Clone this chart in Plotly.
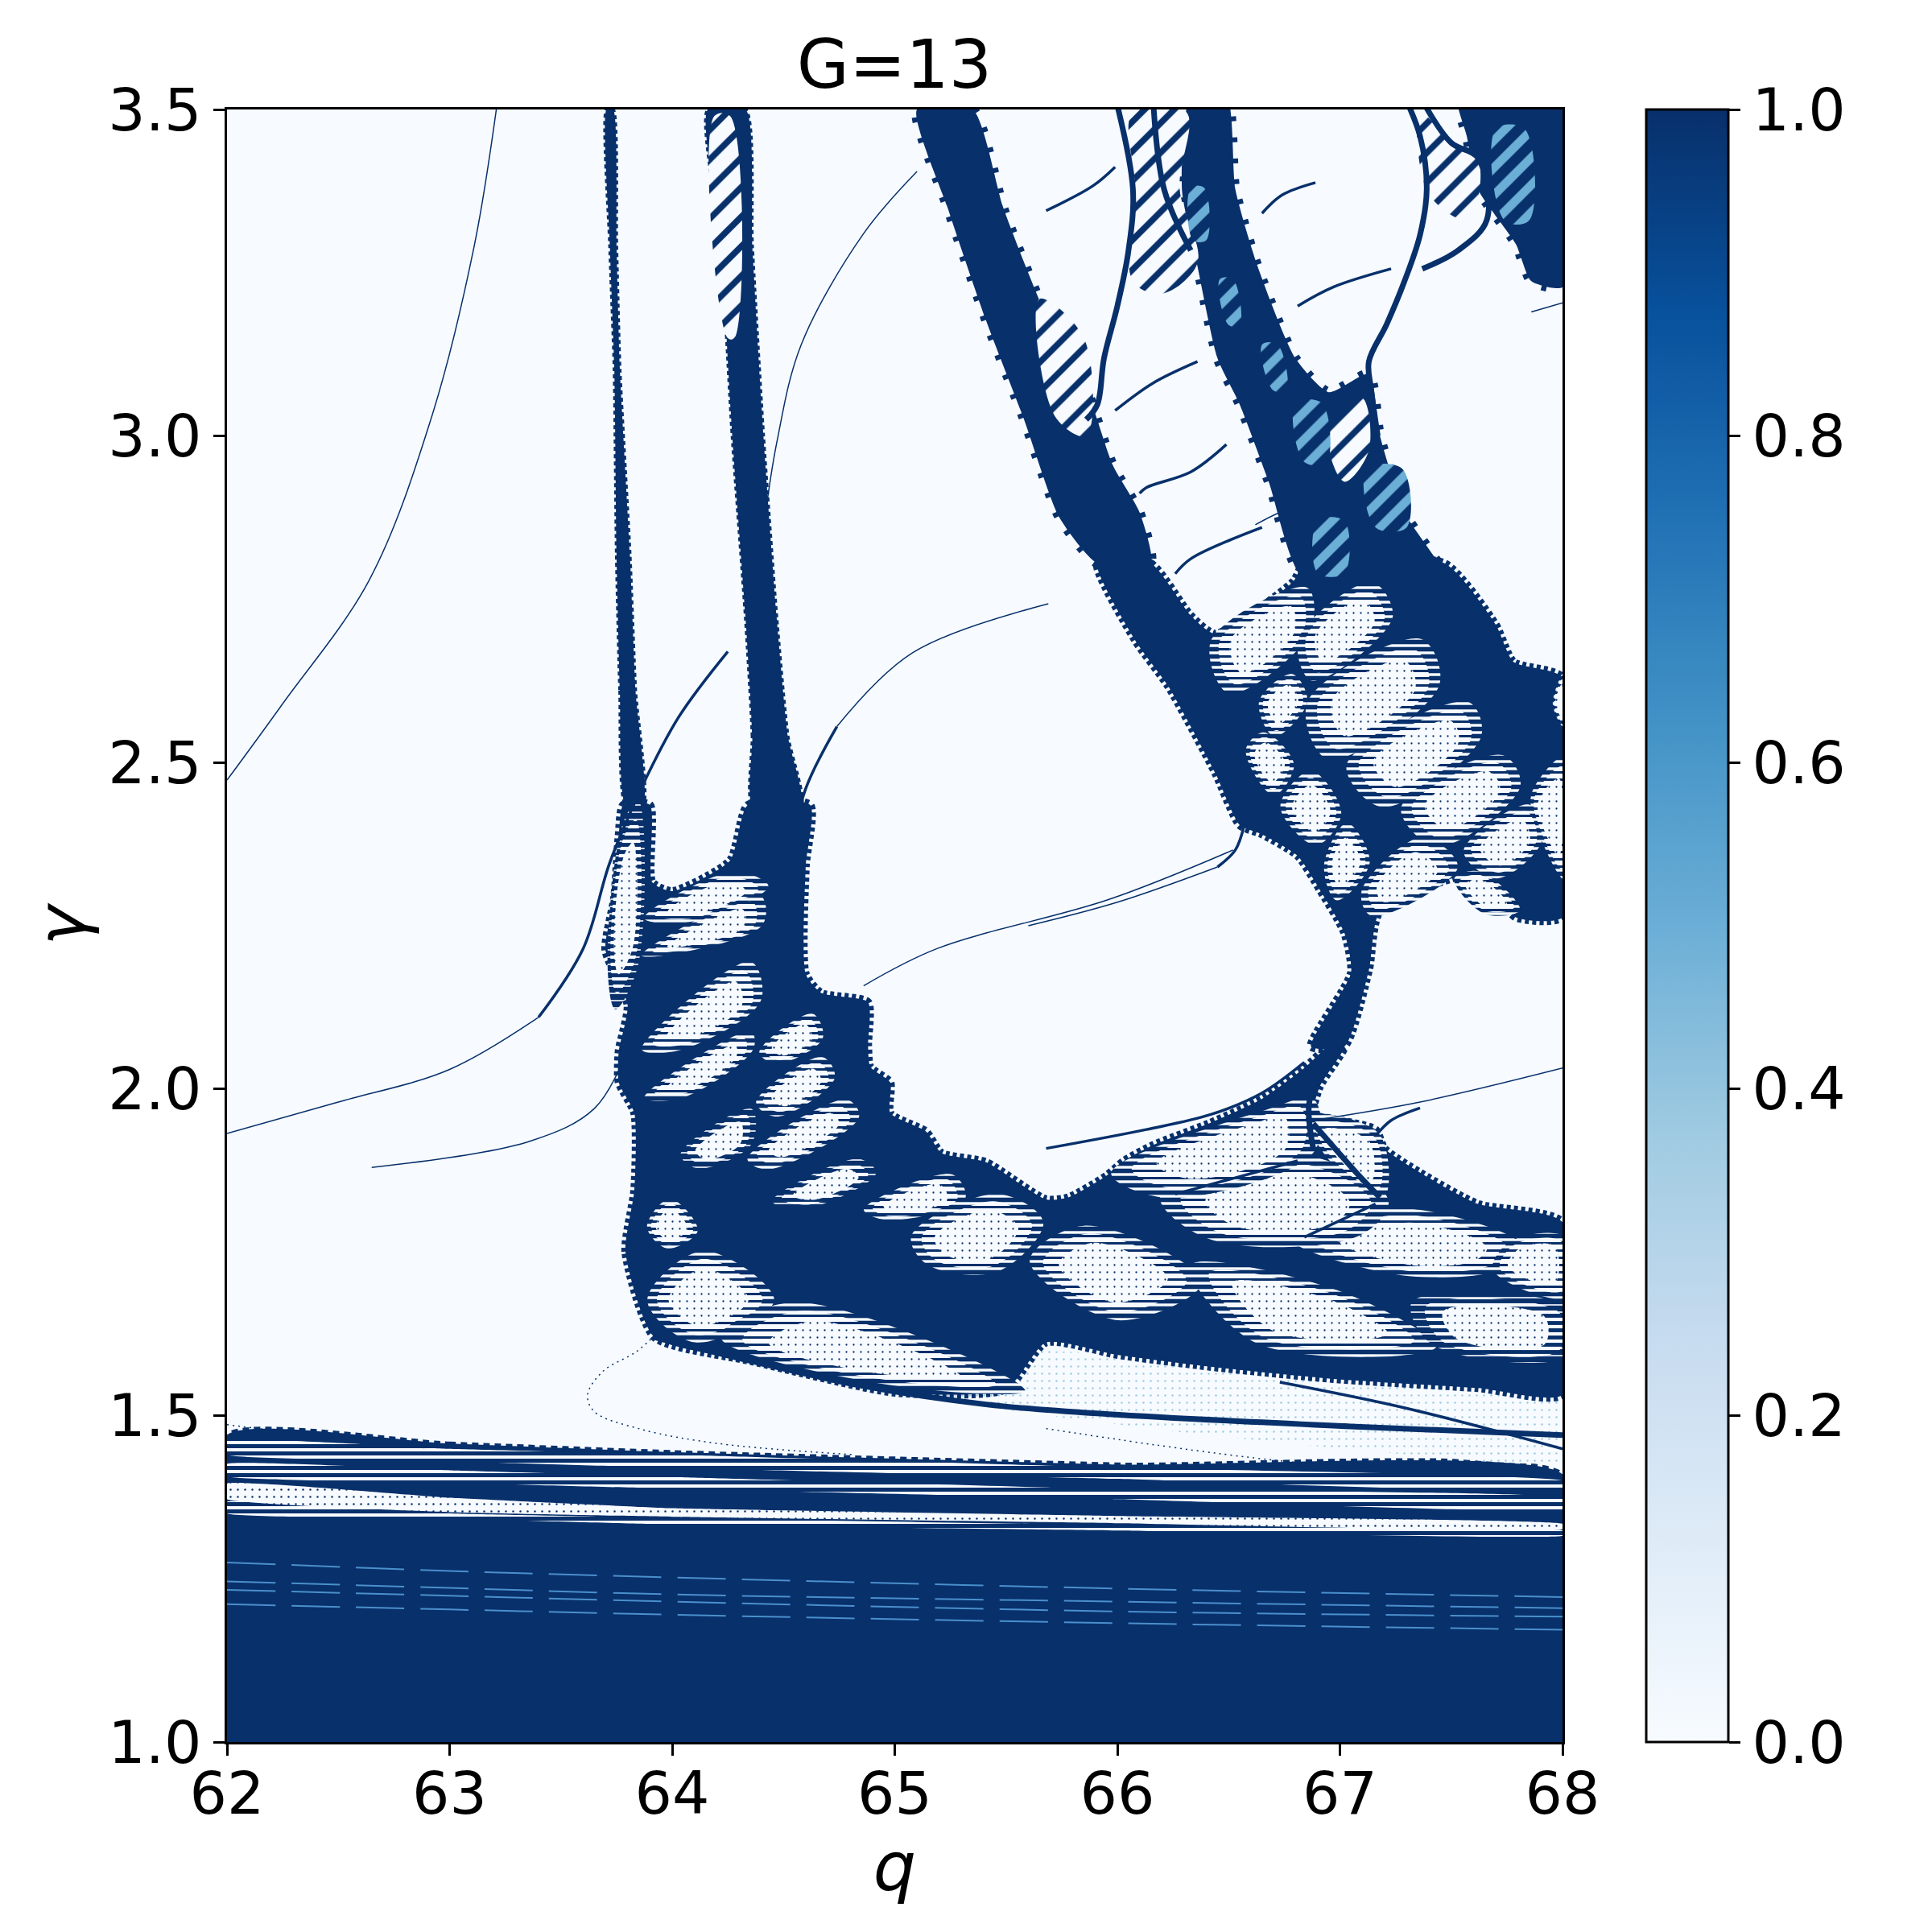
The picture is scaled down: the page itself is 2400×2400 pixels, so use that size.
"""G=13 stability map, q against gamma, rebuilt from values read off the picture."""

import plotly.graph_objects as go

DARK = "#08306b"
PAPER = "#f7fbff"
BLUES = [
    [0.0, "#f7fbff"], [0.125, "#deebf7"], [0.25, "#c6dbef"], [0.375, "#9ecae1"],
    [0.5, "#6baed6"], [0.625, "#4292c6"], [0.75, "#2171b5"], [0.875, "#08519c"],
    [1.0, "#08306b"],
]

x_ticks = [62, 63, 64, 65, 66, 67, 68]
y_ticks = [1.0, 1.5, 2.0, 2.5, 3.0, 3.5]
bar_ticks = [0.0, 0.2, 0.4, 0.6, 0.8, 1.0]

# coarse base map: solid below gamma 1.32, empty above
base_q = [62, 68]
base_gamma = [1.0, 1.32, 3.5]
base_z = [[1.0], [0.0]]

# horizontal bands at the bottom, sampled along q
band_q = [62, 63, 64, 66, 68]
band_top = [1.47, 1.457, 1.444, 1.425, 1.41]
band_bottom = [1.3, 1.3, 1.3, 1.3, 1.3]
striped_bands = [
    ([1.44, 1.43, 1.42, 1.403, 1.386], [1.462, 1.449, 1.44, 1.42, 1.4]),
    ([1.407, 1.397, 1.388, 1.372, 1.357], [1.426, 1.416, 1.406, 1.387, 1.374]),
    ([1.35, 1.342, 1.333, 1.324, 1.316], [1.368, 1.35, 1.343, 1.332, 1.324]),
]
white_bands = [
    ([1.372, 1.352, 1.345, 1.335, 1.326], [1.396, 1.374, 1.358, 1.346, 1.334]),
]
streak_gamma = [
    [1.275, 1.262, 1.252, 1.235, 1.222],
    [1.246, 1.236, 1.226, 1.215, 1.205],
    [1.233, 1.224, 1.215, 1.2, 1.192],
    [1.211, 1.203, 1.195, 1.182, 1.172],
]

# dark masses, as outlines in (q, gamma)
net_q = [63.92, 63.79, 63.83, 63.83, 63.76, 63.76, 63.8, 63.7, 63.74, 63.76, 63.78, 63.9, 63.91, 64.0, 64.26,
         64.34, 64.62, 64.6, 64.6, 64.67, 64.88, 64.88, 64.89, 64.98, 64.98, 65.14, 65.21, 65.41, 65.68, 65.78,
         65.95, 66.03, 66.16, 66.41, 66.65, 66.84, 66.95, 67.02, 66.91, 66.88, 66.97, 67.16, 67.2, 67.36, 67.62,
         68.0, 68.0, 67.62, 66.97, 66.41, 66.0, 65.68, 65.5, 65.0, 64.36]
net_gamma = [1.62, 1.751, 1.845, 1.963, 2.01, 2.058, 2.128, 2.213, 2.293, 2.388, 2.435, 2.435, 2.317, 2.303, 2.35,
             2.435, 2.435, 2.341, 2.176, 2.147, 2.133, 2.067, 2.034, 2.01, 1.963, 1.935, 1.902, 1.888, 1.831, 1.834,
             1.867, 1.89, 1.914, 1.947, 1.985, 2.032, 2.065, 2.065, 2.004, 1.961, 1.954, 1.938, 1.909, 1.872, 1.824,
             1.796, 1.532, 1.542, 1.556, 1.575, 1.593, 1.612, 1.54, 1.535, 1.583]
lattice_q = [65.91, 66.15, 66.33, 66.44, 66.79, 66.84, 67.47, 67.7, 67.78, 68.0, 68.0, 67.79, 67.62, 67.18, 67.13,
             67.02, 66.87, 67.05, 67.02, 66.91, 66.81, 66.65, 66.55, 66.44, 66.23, 66.08]
lattice_gamma = [2.805, 2.805, 2.725, 2.697, 2.777, 2.805, 2.805, 2.711, 2.654, 2.63, 2.263, 2.263, 2.329, 2.272,
                 2.182, 2.065, 2.065, 2.178, 2.239, 2.305, 2.357, 2.39, 2.404, 2.484, 2.616, 2.687]
alpha_q = [65.1, 65.35, 65.49, 65.69, 65.85, 65.98, 66.1, 66.15, 65.91, 65.74, 65.58, 65.41, 65.24]
alpha_gamma = [3.5, 3.5, 3.347, 3.177, 3.083, 2.955, 2.883, 2.805, 2.805, 2.875, 3.026, 3.177, 3.347]
beta_q = [66.33, 66.49, 66.53, 66.63, 66.8, 66.95, 67.13, 67.18, 67.29, 67.47, 66.84, 66.68, 66.55, 66.45, 66.36, 66.29]
beta_gamma = [3.52, 3.52, 3.378, 3.26, 3.119, 3.067, 3.095, 3.0, 2.883, 2.78, 2.78, 2.93, 3.048, 3.119, 3.26, 3.378]
corner_q = [67.53, 68.0, 68.0, 67.86, 67.79, 67.62, 67.57]
corner_gamma = [3.52, 3.52, 3.228, 3.237, 3.294, 3.378, 3.459]
tower1_q = [63.79, 63.765, 63.75, 63.74, 63.72, 63.705, 63.735, 63.75, 63.765, 63.81, 63.835, 63.87]
tower1_gamma = [2.436, 2.611, 2.819, 3.102, 3.291, 3.5, 3.5, 3.291, 3.102, 2.819, 2.611, 2.436]
tower2_q = [64.36, 64.36, 64.33, 64.27, 64.22, 64.16, 64.33, 64.36, 64.41, 64.47, 64.52, 64.58]
tower2_gamma = [2.435, 2.54, 2.72, 3.0, 3.29, 3.5, 3.5, 3.29, 3.0, 2.72, 2.54, 2.435]

# light lobes cut back out of the dark masses
net_lobes = [
    ([65.65, 65.87, 66.33, 66.0], [1.735, 1.782, 1.706, 1.655]),
    ([66.39, 66.97, 67.36, 66.65], [1.721, 1.688, 1.612, 1.617]),
    ([66.85, 67.29, 67.77, 67.70, 67.29], [1.77, 1.81, 1.758, 1.73, 1.72]),
    ([67.78, 68.0, 68.0, 67.71], [1.763, 1.768, 1.688, 1.725]),
    ([66.26, 66.81, 67.16, 67.05, 66.45], [1.834, 1.89, 1.829, 1.782, 1.777]),
    ([66.04, 66.65, 66.84, 66.84, 66.26], [1.876, 1.961, 1.975, 1.905, 1.843]),
    ([66.88, 67.16, 67.18, 66.97], [1.952, 1.928, 1.843, 1.89]),
    ([65.11, 65.45, 65.63, 65.45, 65.17], [1.775, 1.831, 1.793, 1.727, 1.737]),
    ([63.9, 63.99, 64.1, 63.98], [1.789, 1.827, 1.784, 1.76]),
    ([63.92, 64.14, 64.42, 64.11], [1.677, 1.743, 1.677, 1.62]),
    ([64.29, 64.58, 65.49, 64.86], [1.617, 1.664, 1.545, 1.558]),
    ([64.37, 64.76, 64.81, 64.45], [1.897, 1.977, 1.954, 1.883]),
    ([64.4, 64.66, 64.71, 64.48], [1.982, 2.043, 2.015, 1.963]),
    ([64.41, 64.62, 64.66, 64.48], [2.058, 2.11, 2.077, 2.043]),
    ([63.9, 64.33, 64.37, 64.06], [2.067, 2.185, 2.133, 2.067]),
    ([63.91, 64.33, 64.34, 64.06], [1.992, 2.081, 2.058, 1.992]),
    ([63.91, 64.26, 64.4, 64.09], [2.265, 2.327, 2.308, 2.26]),
    ([63.9, 64.37, 64.38, 64.06], [2.209, 2.289, 2.251, 2.213]),
    ([64.89, 65.24, 65.29, 64.98], [1.817, 1.864, 1.831, 1.803]),
    # lattice, upper right
    ([66.45, 66.83, 66.84, 66.52], [2.687, 2.758, 2.697, 2.616]),
    ([66.84, 67.13, 67.21, 66.89], [2.692, 2.767, 2.72, 2.635]),
    ([66.89, 67.34, 67.41, 66.97], [2.593, 2.678, 2.616, 2.517]),
    ([67.07, 67.55, 67.6, 67.21], [2.498, 2.583, 2.536, 2.442]),
    ([67.31, 67.71, 67.78, 67.45], [2.432, 2.503, 2.461, 2.38]),
    ([67.58, 67.84, 67.89, 67.71], [2.366, 2.428, 2.38, 2.329]),
    ([66.75, 66.87, 66.99, 66.89], [2.432, 2.48, 2.423, 2.38]),
    ([66.59, 66.66, 66.78, 66.7], [2.517, 2.541, 2.498, 2.456]),
    ([66.65, 66.78, 66.84, 66.71], [2.593, 2.63, 2.593, 2.546]),
    ([66.94, 67.03, 67.12, 66.99], [2.343, 2.4, 2.347, 2.296]),
    ([67.12, 67.36, 67.5, 67.16], [2.305, 2.378, 2.338, 2.272]),
    ([67.53, 67.63, 67.79, 67.65], [2.319, 2.329, 2.277, 2.272]),
    ([67.87, 68.0, 68.0, 67.9], [2.447, 2.498, 2.333, 2.395]),
    ([67.96, 68.0, 68.0], [2.59, 2.63, 2.56]),
]
heavy_lobes = [
    ([67.37, 68.0, 68.0, 67.45], [1.669, 1.659, 1.598, 1.612]),
    ([64.48, 64.82, 64.89, 64.62], [1.831, 1.888, 1.869, 1.822]),
    ([64.06, 64.34, 64.34, 64.13], [1.902, 1.963, 1.916, 1.883]),
    ([63.72, 63.78, 63.84, 63.84, 63.75], [2.19, 2.39, 2.42, 2.2, 2.14]),
]
faint_q = [63.92, 64.36, 65.0, 65.68, 66.41, 67.0, 68.0, 68.0, 67.0, 66.0]
faint_gamma = [1.62, 1.583, 1.535, 1.5, 1.47, 1.45, 1.43, 1.532, 1.55, 1.593]

# diagonal chains of lens-shaped holes in the upper bands
chain_lobes = [
    ([66.07, 66.31, 66.28, 66.36, 66.2, 66.07, 66.08], [3.496, 3.496, 3.378, 3.265, 3.218, 3.237, 3.378]),
    ([66.95, 67.1, 67.13, 67.02], [3.0, 3.058, 2.978, 2.93]),
    ([67.36, 67.5, 67.62, 67.58, 67.4], [3.496, 3.449, 3.426, 3.331, 3.37]),
    ([65.65, 65.85, 65.86, 65.72], [3.21, 3.15, 3.0, 3.03]),
    ([64.19, 64.26, 64.28, 64.25], [3.49, 3.49, 3.15, 3.15]),
]
mid_lobes = [
    ([66.33, 66.39, 66.4, 66.34], [3.38, 3.38, 3.3, 3.3]),
    ([66.46, 66.52, 66.55, 66.5], [3.24, 3.24, 3.17, 3.17]),
    ([66.65, 66.72, 66.76, 66.7], [3.14, 3.14, 3.07, 3.07]),
    ([66.8, 66.92, 66.94, 66.84], [3.05, 3.05, 2.96, 2.96]),
    ([67.12, 67.28, 67.3, 67.16], [2.95, 2.95, 2.86, 2.86]),
    ([66.9, 67.02, 67.02, 66.9], [2.87, 2.87, 2.79, 2.79]),
    ([67.7, 67.83, 67.85, 67.74], [3.47, 3.47, 3.33, 3.33]),
]

# ridges, heavy first
heavy_ridges = [
    ([65.86, 65.91, 65.94, 66.0, 66.05, 66.07, 65.99], [3.025, 3.048, 3.119, 3.199, 3.284, 3.378, 3.52]),
    ([66.16, 66.21, 66.33], [3.52, 3.378, 3.284]),
    ([67.29, 67.36, 67.39, 67.36, 67.29, 67.21, 67.13, 67.14, 67.17], [3.52, 3.459, 3.378, 3.308, 3.237, 3.171, 3.114, 3.072, 3.0]),
    ([67.36, 67.5, 67.62, 67.66, 67.53, 67.37], [3.52, 3.449, 3.426, 3.331, 3.284, 3.256]),
    ([66.95, 66.89, 66.86, 66.88], [2.065, 2.018, 1.971, 1.909]),
    ([66.88, 67.1, 67.18], [1.947, 1.862, 1.834]),
    ([63.92, 64.36, 64.86, 65.41, 65.96, 67.07, 68.0], [1.62, 1.583, 1.545, 1.517, 1.502, 1.483, 1.47]),
]
fine_ridges = [
    ([66.73, 67.3, 68.0], [1.551, 1.511, 1.449]),
    ([65.68, 66.13, 66.42, 66.65, 66.84], [1.909, 1.938, 1.961, 1.994, 2.041]),
    ([66.26, 66.81], [1.839, 1.89]),
    ([66.84, 67.16], [1.773, 1.824]),
    ([67.16, 67.23, 67.36], [1.928, 1.952, 1.971]),
    ([63.86, 64.03, 64.25], [2.46, 2.57, 2.67]),
    ([64.52, 64.6, 64.74], [2.347, 2.46, 2.555]),
    ([66.57, 66.53, 66.45], [2.404, 2.366, 2.34]),
    ([66.65, 66.74, 66.89], [3.341, 3.369, 3.388]),
    ([66.81, 66.97, 67.23], [3.199, 3.228, 3.256]),
    ([65.99, 66.16, 66.36], [3.039, 3.081, 3.114]),
    ([66.1, 66.13, 66.33, 66.49], [2.912, 2.921, 2.945, 2.987]),
    ([65.99, 65.89, 65.68], [3.412, 3.383, 3.345]),
    ([66.26, 66.33, 66.65], [2.789, 2.812, 2.86]),
    ([63.86, 63.72, 63.6, 63.4], [2.46, 2.347, 2.215, 2.11]),
]
thin_ridges = [
    ([62.0, 62.25, 62.64, 62.92, 63.11, 63.21], [2.473, 2.59, 2.78, 3.03, 3.29, 3.5]),
    ([62.0, 62.5, 63.0, 63.4], [1.932, 1.98, 2.03, 2.11]),
    ([63.8, 63.65, 63.36, 62.65], [2.06, 1.97, 1.92, 1.88]),
    ([65.1, 64.86, 64.58, 64.47, 64.41], [3.405, 3.31, 3.14, 2.99, 2.857]),
    ([64.74, 65.08, 65.69], [2.555, 2.668, 2.743]),
    ([64.86, 65.19, 65.96, 66.52], [2.158, 2.215, 2.29, 2.366]),
    ([66.45, 66.0, 65.6], [2.34, 2.286, 2.25]),
    ([66.88, 67.36, 68.0], [1.952, 1.98, 2.032]),
    ([66.62, 66.73, 66.97], [2.864, 2.883, 2.912]),
    ([67.86, 68.0], [3.19, 3.204]),
]
dotted_ridges = [
    ([62.0, 62.47, 62.9], [1.486, 1.466, 1.45]),
    ([63.94, 63.84, 63.69, 63.62, 63.65, 63.86, 64.21, 64.82], [1.629, 1.598, 1.568, 1.532, 1.506, 1.479, 1.457, 1.44]),
    ([65.68, 66.81, 67.78], [1.48, 1.428, 1.412]),
]

# each lobe is drawn in layers, shrinking, so the stripes thin out towards its middle
lobe_layers = [(1.14, 0.62, "-"), (0.95, 0.34, "-"), (0.72, 0.05, ".")]


def outline(q, gamma):
    return list(q) + [q[0]], list(gamma) + [gamma[0]]


def shrink(q, gamma, scale):
    mid_q = sum(q) / len(q)
    mid_gamma = sum(gamma) / len(gamma)
    return ([mid_q + (v - mid_q) * scale for v in q],
            [mid_gamma + (v - mid_gamma) * scale for v in gamma])


def add_solid(fig, q, gamma, teeth=None):
    xs, ys = outline(q, gamma)
    line = dict(width=0, color=DARK, shape="spline", smoothing=0.6)
    if teeth:
        line.update(width=teeth[0], dash=teeth[1])
    fig.add_trace(go.Scatter(
        x=xs, y=ys, mode="lines", fill="toself", fillcolor=DARK, line=line,
        hoverinfo="skip", showlegend=False,
    ))


def add_hatch(fig, q, gamma, shape="-", size=9, solidity=0.3, fg=DARK, bg=PAPER, smooth=1.0):
    xs, ys = outline(q, gamma)
    fig.add_trace(go.Scatter(
        x=xs, y=ys, mode="lines", fill="toself",
        fillpattern=dict(shape=shape, size=size, solidity=solidity, fgcolor=fg, bgcolor=bg, fillmode="replace"),
        line=dict(width=0, color=bg, shape="spline", smoothing=smooth),
        hoverinfo="skip", showlegend=False,
    ))


def add_lobe(fig, q, gamma, extra=0.0):
    for scale, solidity, shape in lobe_layers:
        sq, sg = shrink(q, gamma, scale)
        # heavier lobes darken the stripes only, the dots in the middle stay small
        weight = min(solidity + extra, 0.9) if shape == "-" else solidity
        add_hatch(fig, sq, sg, shape=shape, solidity=weight)


def add_ridge(fig, q, gamma, width, color=DARK, dash="solid"):
    fig.add_trace(go.Scatter(
        x=q, y=gamma, mode="lines",
        line=dict(width=width, color=color, shape="spline", dash=dash),
        hoverinfo="skip", showlegend=False,
    ))


fig = go.Figure()
fig.add_trace(go.Heatmap(
    x=base_q, y=base_gamma, z=base_z, zmin=0, zmax=1, colorscale=BLUES, hoverinfo="skip",
    colorbar=dict(
        x=(2045 - 281.6) / 1659.4, xanchor="left", thickness=102, thicknessmode="pixels",
        y=0, yanchor="bottom", len=1, lenmode="fraction",
        outlinewidth=3, outlinecolor="black", ticks="outside", ticklen=14, tickwidth=3,
        tickcolor="black", tickvals=bar_ticks, tickformat=".1f",
        tickfont=dict(family="DejaVu Sans", size=73, color="black"),
        xpad=0, ypad=0,
    ),
))

# bottom bands
add_solid(fig, band_q + band_q[::-1], band_top + band_bottom[::-1], teeth=(5, "8px,6px"))
for low, high in striped_bands:
    add_hatch(fig, band_q + band_q[::-1], high + low[::-1], size=9, solidity=0.55, smooth=0.3)
for low, high in white_bands:
    add_hatch(fig, band_q + band_q[::-1], high + low[::-1], shape=".", size=9, solidity=0.06, smooth=0.3)
for streak in streak_gamma:
    add_ridge(fig, band_q, streak, 2, color="#4a90cc", dash="60px,20px")

# faint dotted area under the main wedge
add_hatch(fig, faint_q, faint_gamma, shape=".", size=9, solidity=0.06, fg="#9ecae1", smooth=0.4)

# dark masses, toothed along their edges
for q, gamma in [(net_q, net_gamma), (lattice_q, lattice_gamma)]:
    add_solid(fig, q, gamma, teeth=(10, "5px,4px"))
for q, gamma in [(alpha_q, alpha_gamma), (beta_q, beta_gamma), (corner_q, corner_gamma)]:
    add_solid(fig, q, gamma, teeth=(12, "6px,20px"))
for q, gamma in [(tower1_q, tower1_gamma), (tower2_q, tower2_gamma)]:
    add_solid(fig, q, gamma, teeth=(4, "5px,4px"))

# lobes
for q, gamma in net_lobes:
    add_lobe(fig, q, gamma)
for q, gamma in heavy_lobes:
    add_lobe(fig, q, gamma, extra=0.2)
for q, gamma in chain_lobes:
    add_hatch(fig, q, gamma, shape="/", size=26, solidity=0.3)
for q, gamma in mid_lobes:
    add_hatch(fig, q, gamma, shape="/", size=24, solidity=0.55, bg="#6baed6")

# ridges
for q, gamma in heavy_ridges:
    add_ridge(fig, q, gamma, 7)
for q, gamma in fine_ridges:
    add_ridge(fig, q, gamma, 3.5)
for q, gamma in thin_ridges:
    add_ridge(fig, q, gamma, 1.5)
for q, gamma in dotted_ridges:
    add_ridge(fig, q, gamma, 1.5, dash="2px,5px")

axis_style = dict(
    showgrid=False, zeroline=False, showline=True, linecolor="black", linewidth=3, mirror=True,
    ticks="outside", ticklen=14, tickwidth=3, tickcolor="black", automargin=False,
    tickfont=dict(family="DejaVu Sans", size=73, color="black"),
    title_font=dict(family="DejaVu Sans", size=84, color="black"),
)
fig.update_layout(
    width=2400, height=2400, margin=dict(l=274, r=467, t=128, b=244, autoexpand=False),
    paper_bgcolor="white", plot_bgcolor=PAPER, showlegend=False,
    title=dict(text="G=13", x=1103 / 2400, xanchor="center", y=1 - 72 / 2400, yanchor="middle",
               font=dict(family="DejaVu Sans", size=84, color="black")),
    xaxis=dict(axis_style, range=[62, 68], tickvals=x_ticks, ticklabelstandoff=-16,
               title=dict(text="<i>q</i>", standoff=0)),
    yaxis=dict(axis_style, range=[1.0, 3.5], tickvals=y_ticks, tickformat=".1f",
               title=dict(text="<i>γ</i>", standoff=0)),
)

fig.write_html("out.html")
